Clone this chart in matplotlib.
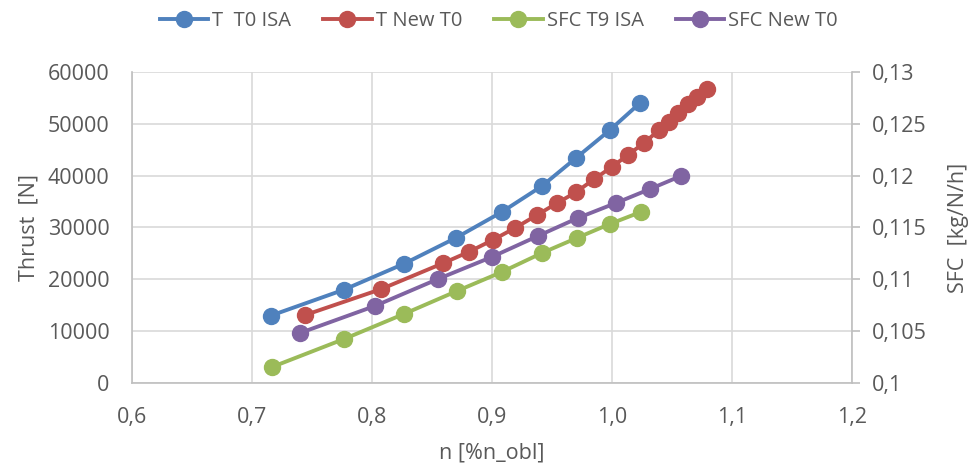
import matplotlib
matplotlib.use("Agg")
import matplotlib.pyplot as plt
from matplotlib.ticker import FuncFormatter, MultipleLocator
from matplotlib.lines import Line2D

plt.rcParams['font.family'] = ['Open Sans', 'DejaVu Sans']

# T T0 ISA (left axis)
n_t0 = [0.7158, 0.7767, 0.8267, 0.870, 0.9083, 0.9417, 0.970, 0.9983, 1.0233]
thrust_t0 = [13000, 18000, 23000, 28000, 33000, 38000, 43400, 48800, 54000]

# T New T0 (left axis)
n_new = [0.7442, 0.8075, 0.8592, 0.8808, 0.9008, 0.9192, 0.9375, 0.9542, 0.970,
         0.985, 1.000, 1.0133, 1.0267, 1.0392, 1.0475, 1.055, 1.0633, 1.0708, 1.0792]
thrust_new = [13100, 18100, 23100, 25300, 27600, 29900, 32400, 34700, 36800,
              39300, 41700, 44000, 46300, 48800, 50400, 52100, 53800, 55200, 56700]

# SFC T9 ISA (right axis)
n_sfc_isa = [0.7167, 0.7767, 0.8267, 0.8708, 0.9083, 0.9417, 0.9708, 0.9983, 1.0242]
sfc_isa = [0.10154, 0.10424, 0.10666, 0.10887, 0.11071, 0.11254, 0.11399, 0.11534, 0.11650]

# SFC New T0 (right axis)
n_sfc_new = [0.740, 0.8025, 0.855, 0.900, 0.9383, 0.9717, 1.0033, 1.0317, 1.0575]
sfc_new = [0.10482, 0.10743, 0.11003, 0.11216, 0.11418, 0.11592, 0.11736, 0.11871, 0.11997]

c_blue = "#4f81bd"
c_red = "#c0504d"
c_green = "#9bbb59"
c_purple = "#8064a2"
grey = "#595959"
grid = "#d9d9d9"
fs = 15.5

fig = plt.figure(figsize=(9.76, 4.69), dpi=100)
ax = fig.add_axes([0.1352, 0.1834, 0.7377, 0.6631])
ax2 = ax.twinx()

style = dict(lw=2.8, marker="o", ms=11.5, clip_on=False)
ax.plot(n_t0, thrust_t0, color=c_blue, zorder=4, **style)
ax.plot(n_new, thrust_new, color=c_red, zorder=4, **style)
ax2.plot(n_sfc_isa, sfc_isa, color=c_green, **style)
ax2.plot(n_sfc_new, sfc_new, color=c_purple, **style)

ax.set_xlim(0.6, 1.2)
ax.set_ylim(0, 60000)
ax2.set_ylim(0.1, 0.13)
ax.xaxis.set_major_locator(MultipleLocator(0.1))
ax.yaxis.set_major_locator(MultipleLocator(10000))
ax2.yaxis.set_major_locator(MultipleLocator(0.005))

def comma(v, pos):
    s = ("%.3f" % v).rstrip("0").rstrip(".")
    return s.replace(".", ",")

ax.xaxis.set_major_formatter(FuncFormatter(lambda v, p: ("%.1f" % v).replace(".", ",")))
ax.yaxis.set_major_formatter(FuncFormatter(lambda v, p: "%d" % v))
ax2.yaxis.set_major_formatter(FuncFormatter(comma))

ax.grid(True, color=grid, lw=1.2)
ax.set_axisbelow(True)
for a in (ax, ax2):
    for s in a.spines.values():
        s.set_visible(False)
ax.spines["left"].set_visible(True)
ax.spines["bottom"].set_visible(True)
ax2.spines["right"].set_visible(True)
for s in (ax.spines["left"], ax.spines["bottom"], ax2.spines["right"]):
    s.set_color("#bfbfbf")
    s.set_linewidth(1.2)

ax.tick_params(axis="y", length=0, labelsize=fs, labelcolor=grey, pad=16)
ax.tick_params(axis="x", length=0, labelsize=fs, labelcolor=grey, pad=17)
ax2.tick_params(axis="y", length=6, color="#bfbfbf", width=1.2, labelsize=fs,
                labelcolor=grey, pad=8)

ax.set_xlabel("n [%n_obl]", fontsize=fs, color=grey, labelpad=11)
ax.set_ylabel("Thrust  [N]", fontsize=fs, color=grey, labelpad=6)
ax2.set_ylabel("SFC  [kg/N/h]", fontsize=fs, color=grey, labelpad=16)

handles = [Line2D([], [], color=c, lw=2.8, marker="o", ms=11.5)
           for c in (c_blue, c_red, c_green, c_purple)]
labels = ["T  T0 ISA", "T New T0", "SFC T9 ISA", "SFC New T0"]
fig.legend(handles, labels, loc="upper center", bbox_to_anchor=(0.511, 1.015), ncol=4,
           frameon=False, fontsize=14.5, labelcolor=grey, handlelength=2.4,
           handletextpad=0.2, columnspacing=1.6)

fig.savefig("out.png", dpi=100)
